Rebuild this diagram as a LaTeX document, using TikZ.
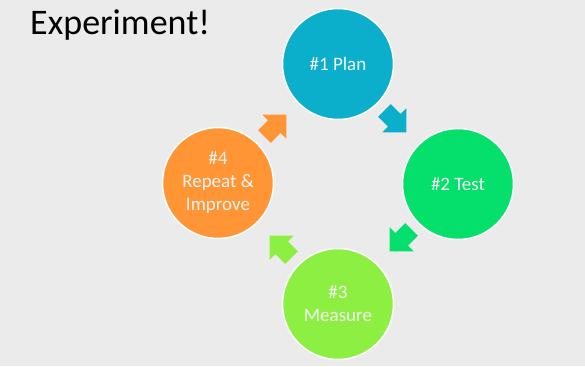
\documentclass[tikz,border=0pt]{standalone}
\usepackage{fontspec}
\setmainfont{Carlito}
\definecolor{bgcol}{HTML}{EBEBEB}
\definecolor{plancol}{HTML}{0BAFCB}
\definecolor{testcol}{HTML}{05E06C}
\definecolor{meascol}{HTML}{8DEF42}
\definecolor{repcol}{HTML}{FF9535}
\definecolor{txtcol}{HTML}{F4F4F4}
\tikzset{
  circ/.style={circle, draw=white, line width=1.5pt, minimum size=111pt, inner sep=0pt,
    text=txtcol, font=\fontsize{19}{23}\selectfont, align=center},
  blockarrow/.pic={\fill[pic actions] (16,0) -- (-1,17) -- (-1,9) -- (-15,9) -- (-15,-9) -- (-1,-9) -- (-1,-17) -- cycle;}
}
\begin{document}
\begin{tikzpicture}[x=1pt,y=-1pt]
\fill[bgcol] (0,0) rectangle (585,366);
\useasboundingbox (0,0) rectangle (585,366);
\node[anchor=base west, inner sep=0pt, font=\fontsize{36}{40}\selectfont] (title) at (30,35) {Experiment!};
\node[circ, fill=plancol] (plan) at (338,64) {\#1 Plan};
\node[circ, fill=testcol] (test) at (458,184) {\#2 Test};
\node[circ, fill=meascol] (meas) at (338,304) {\#3\\Measure};
\node[circ, fill=repcol] (rep) at (218,183) {\#4\\Repeat \&\\Improve};
\pic[rotate=-45, fill=plancol] at (395,121) {blockarrow};
\pic[rotate=-135, fill=testcol] at (401,240) {blockarrow};
\pic[rotate=135, fill=meascol] at (281,247) {blockarrow};
\pic[rotate=45, fill=repcol] at (275,126) {blockarrow};
\end{tikzpicture}
\end{document}
